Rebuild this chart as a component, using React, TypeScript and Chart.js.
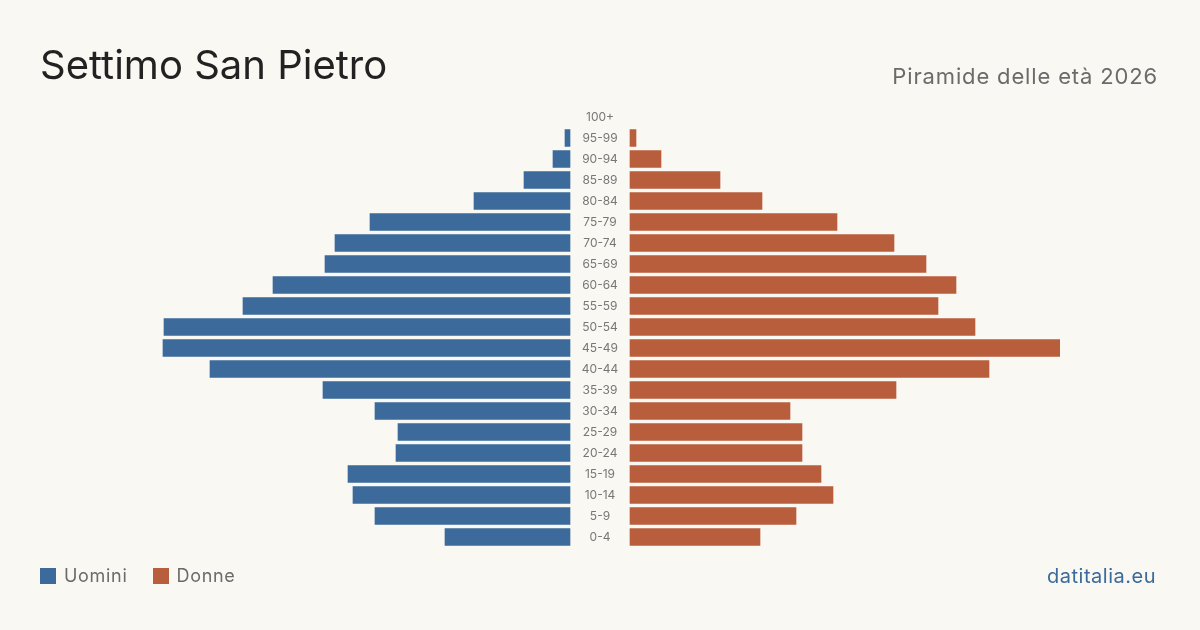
import React, { useEffect, useRef } from "react";
import { Chart, registerables } from "chart.js";

Chart.register(...registerables);

const ageGroups = [
  "0-4", "5-9", "10-14", "15-19", "20-24", "25-29", "30-34", "35-39", "40-44", "45-49",
  "50-54", "55-59", "60-64", "65-69", "70-74", "75-79", "80-84", "85-89", "90-94", "95-99", "100+",
];
const men = [125, 195, 217, 222, 174, 172, 195, 247, 360, 407, 406, 327, 297, 245, 235, 200, 96, 46, 17, 5, 0];
const women = [130, 166, 203, 191, 172, 172, 160, 266, 359, 430, 345, 308, 326, 296, 264, 207, 132, 90, 31, 6, 0];

const GAP = 30;
const MAX = 430;
const BLUE = "#3b6a9b";
const RED = "#b95e3d";
const BG = "#f9f8f3";
const FONT = "Inter, 'Noto Sans', sans-serif";

export default function App() {
  const ref = useRef<HTMLCanvasElement | null>(null);
  useEffect(() => {
    document.body.style.margin = "0";
    const labelsPlugin = {
      id: "centerLabels",
      afterDatasetsDraw(chart: any) {
        const { ctx, scales } = chart;
        const x = scales.x.getPixelForValue(0);
        ctx.save();
        ctx.font = `12px ${FONT}`;
        ctx.fillStyle = "#777";
        ctx.textAlign = "center";
        ctx.textBaseline = "middle";
        ageGroups.forEach((g, i) => {
          ctx.fillText(g, x, scales.y.getPixelForValue(i));
        });
        ctx.restore();
      },
    };
    const chart = new Chart(ref.current!, {
      type: "bar",
      data: {
        labels: ageGroups,
        datasets: [
          {
            label: "Uomini",
            data: men.map((v) => (v > 0 ? [-(v + GAP), -GAP] : null)) as any,
            backgroundColor: BLUE,
            barThickness: 17,
            grouped: false,
          },
          {
            label: "Donne",
            data: women.map((v) => (v > 0 ? [GAP, v + GAP] : null)) as any,
            backgroundColor: RED,
            barThickness: 17,
            grouped: false,
          },
        ],
      },
      options: {
        indexAxis: "y",
        animation: false,
        responsive: false,
        layout: { padding: { left: 140, right: 140, top: 106.5, bottom: 82.5 } },
        plugins: { legend: { display: false }, tooltip: { enabled: false } },
        scales: {
          x: { display: false, min: -(MAX + GAP), max: MAX + GAP },
          y: { display: false, reverse: true },
        },
      },
      plugins: [labelsPlugin],
    });
    return () => chart.destroy();
  }, []);

  return (
    <div style={{ position: "relative", width: 1200, height: 630, background: BG, fontFamily: FONT, overflow: "hidden" }}>
      <canvas ref={ref} width={1200} height={630} style={{ position: "absolute", left: 0, top: 0 }} />
      <div style={{ position: "absolute", left: 40, top: 40, fontSize: 40, color: "#222", lineHeight: "50px" }}>
        Settimo San Pietro
      </div>
      <div style={{ position: "absolute", right: 42, top: 61, fontSize: 22, color: "#6b6b6b", lineHeight: "30px", letterSpacing: 0.85 }}>
        Piramide delle età 2026
      </div>
      <div style={{ position: "absolute", left: 40, top: 564, display: "flex", alignItems: "center", fontSize: 18, color: "#6b6b6b", lineHeight: "24px", letterSpacing: 0.7 }}>
        <span style={{ width: 16, height: 16, background: BLUE, display: "inline-block", marginRight: 8 }} />
        <span style={{ marginRight: 25 }}>Uomini</span>
        <span style={{ width: 16, height: 16, background: RED, display: "inline-block", marginRight: 8 }} />
        <span>Donne</span>
      </div>
      <div style={{ position: "absolute", right: 44, top: 563, fontSize: 20, color: BLUE, lineHeight: "26px", letterSpacing: 0.5 }}>
        datitalia.eu
      </div>
    </div>
  );
}
